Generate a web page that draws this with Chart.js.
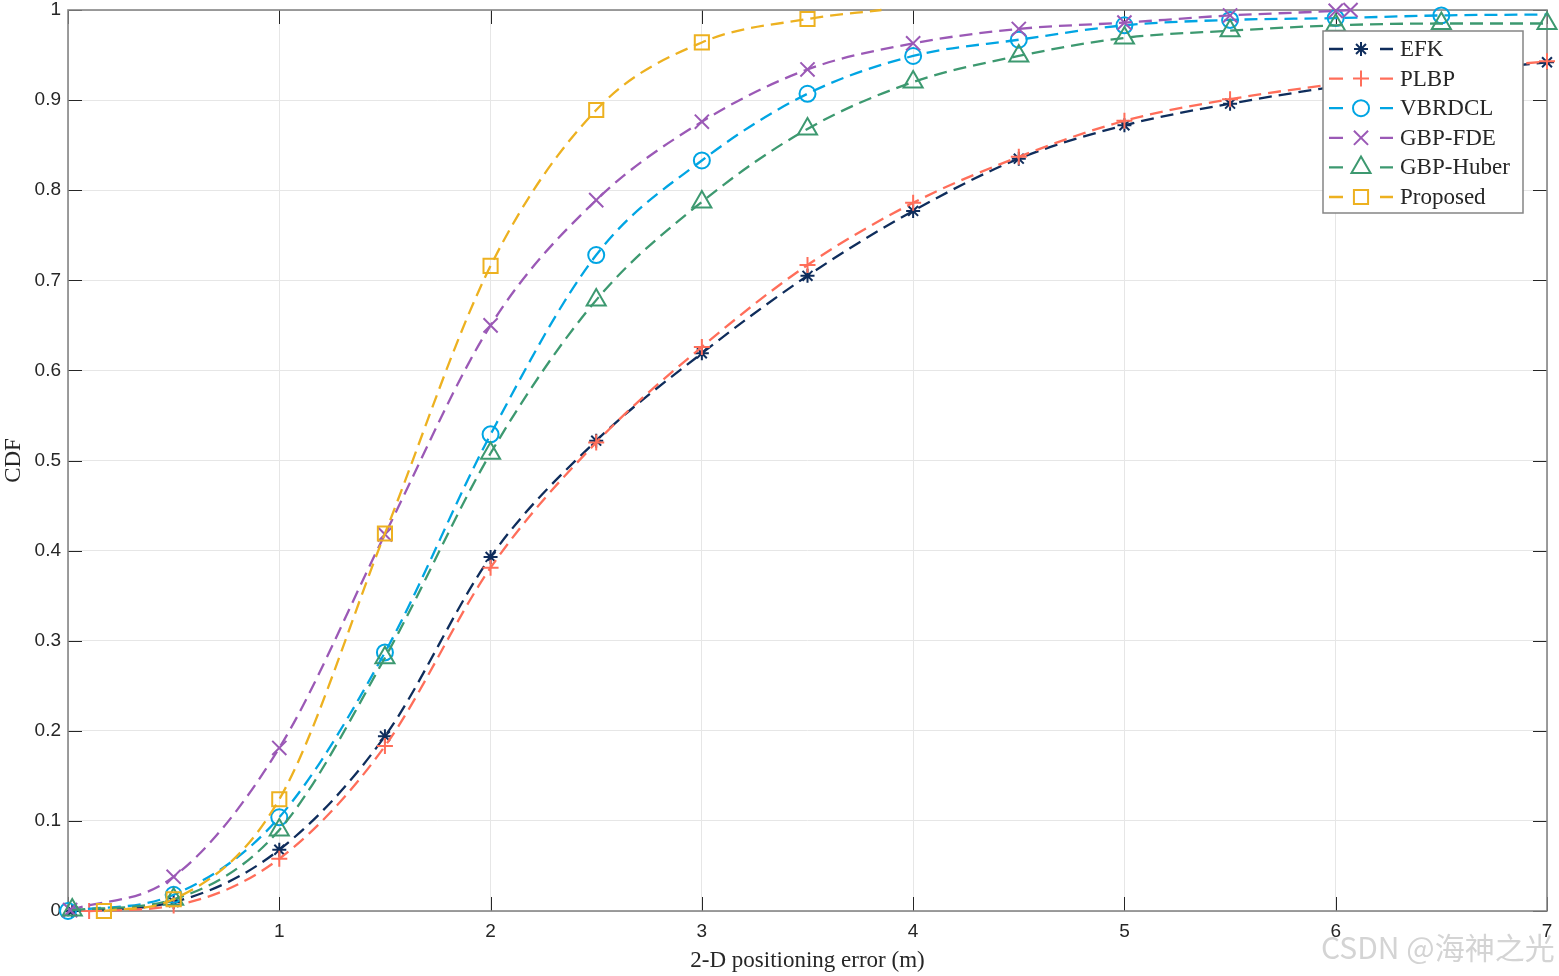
<!DOCTYPE html>
<html>
<head>
    <title>CDF of 2-D positioning error</title>
    <style>
        body {
            margin: 0;
            background-color: white;
        }

        #wrap {
            position: relative;
            width: 1559px;
            height: 976px;
        }

        #cdf-chart {
            display: block;
        }

        /* watermark in the lower right corner */
        #mark {
            position: absolute;
            left: 1321px;
            top: 929px;
            font-family: 'Noto Sans CJK SC', sans-serif;
            font-size: 30px;
            line-height: 34px;
            color: #d4d4d4;
            white-space: nowrap;
        }
    </style>
    <script src="https://cdn.jsdelivr.net/npm/chart.js"></script>
</head>
<body>
    <div id="wrap">
        <canvas id="cdf-chart" width="1559" height="976"></canvas>
        <div id="mark">CSDN @海神之光</div>
    </div>

    <script>
        // x ticks (m) and y ticks (CDF)
        const xTicks = [0, 1, 2, 3, 4, 5, 6, 7];
        const yTicks = [0, 0.1, 0.2, 0.3, 0.4, 0.5, 0.6, 0.7, 0.8, 0.9, 1];

        const seriesNames = ['EFK', 'PLBP', 'VBRDCL', 'GBP-FDE', 'GBP-Huber', 'Proposed'];

        const efkX = [0.02, 0.5, 1, 1.5, 2, 2.5, 3, 3.5, 4, 4.5, 5, 5.5, 6, 6.5, 7];
        const efkCdf = [0, 0.01, 0.068, 0.194, 0.393, 0.522, 0.619, 0.705, 0.777, 0.835, 0.872, 0.896, 0.915, 0.93, 0.942];

        const plbpX = [0.1, 0.5, 1, 1.5, 2, 2.5, 3, 3.5, 4, 4.5, 5, 5.5, 6, 6.5, 7];
        const plbpCdf = [0, 0.006, 0.058, 0.183, 0.381, 0.52, 0.626, 0.717, 0.786, 0.837, 0.877, 0.901, 0.918, 0.932, 0.943];

        const vbrdclX = [0, 0.5, 1, 1.5, 2, 2.5, 3, 3.5, 4, 4.5, 5, 5.5, 6, 6.5, 7];
        const vbrdclCdf = [0, 0.018, 0.104, 0.287, 0.529, 0.728, 0.833, 0.907, 0.949, 0.967, 0.983, 0.989, 0.991, 0.994, 0.995];

        const fdeX = [0.01, 0.5, 1, 1.5, 2, 2.5, 3, 3.5, 4, 4.5, 5, 5.5, 6, 6.07];
        const fdeCdf = [0.001, 0.038, 0.181, 0.418, 0.65, 0.789, 0.876, 0.934, 0.963, 0.979, 0.986, 0.994, 0.999, 1];

        const huberX = [0.02, 0.5, 1, 1.5, 2, 2.5, 3, 3.5, 4, 4.5, 5, 5.5, 6, 6.5, 7];
        const huberCdf = [0.001, 0.013, 0.09, 0.281, 0.508, 0.678, 0.787, 0.868, 0.92, 0.949, 0.969, 0.977, 0.983, 0.985, 0.985];

        const proposedX = [0.17, 0.5, 1, 1.5, 2, 2.5, 3, 3.5, 3.85];
        const proposedCdf = [0, 0.013, 0.124, 0.419, 0.716, 0.889, 0.964, 0.99, 1];

        const colors = ['#0f2d5c', '#ff6e5a', '#00a5e3', '#9b59b6', '#3d9970', '#edb120'];
        const markers = ['star', 'cross', 'circle', 'crossRot', 'triangle', 'rect'];
        const markerSize = [7, 8, 8, 10, 11, 10];

        function toPoints(xs, ys) {
            return xs.map((x, i) => ({ x: x, y: ys[i] }));
        }

        const allX = [efkX, plbpX, vbrdclX, fdeX, huberX, proposedX];
        const allY = [efkCdf, plbpCdf, vbrdclCdf, fdeCdf, huberCdf, proposedCdf];

        const datasets = seriesNames.map((name, i) => {
            const radii = allX[i].map(() => markerSize[i]);
            // no marker drawn on the last point of VBRDCL and Proposed
            if (name === 'VBRDCL' || name === 'Proposed') radii[radii.length - 1] = 0;
            return {
                label: name,
                data: toPoints(allX[i], allY[i]),
                borderColor: colors[i],
                backgroundColor: 'rgba(0,0,0,0)',
                borderWidth: 2.3,
                borderDash: [13, 7],
                cubicInterpolationMode: 'monotone',
                pointStyle: markers[i],
                pointRadius: radii,
                pointBorderColor: colors[i],
                pointBackgroundColor: 'rgba(0,0,0,0)',
                pointBorderWidth: 2,
                markerSize: markerSize[i],
                clip: false,
                order: seriesNames.length - i
            };
        });

        // box round the plot and inward tick marks
        const frame = {
            id: 'frame',
            beforeDatasetsDraw(chart) {
                const { ctx, chartArea: a, scales: { x, y } } = chart;
                ctx.save();
                ctx.strokeStyle = '#262626';
                ctx.lineWidth = 1;
                ctx.beginPath();
                xTicks.forEach(v => {
                    const px = Math.round(x.getPixelForValue(v)) + 0.5;
                    ctx.moveTo(px, a.bottom); ctx.lineTo(px, a.bottom - 14);
                    ctx.moveTo(px, a.top); ctx.lineTo(px, a.top + 14);
                });
                yTicks.forEach(v => {
                    const py = Math.round(y.getPixelForValue(v)) + 0.5;
                    ctx.moveTo(a.left, py); ctx.lineTo(a.left + 14, py);
                    ctx.moveTo(a.right, py); ctx.lineTo(a.right - 14, py);
                });
                ctx.stroke();
                ctx.strokeStyle = '#858585';
                ctx.lineWidth = 1.6;
                ctx.strokeRect(a.left, a.top, a.right - a.left, a.bottom - a.top);
                ctx.restore();
            }
        };

        // legend with line + marker samples, upper right
        const legendBox = {
            id: 'legendBox',
            afterDraw(chart) {
                const ctx = chart.ctx;
                const left = 1323, top = 31, w = 200, h = 182;
                ctx.save();
                ctx.fillStyle = 'white';
                ctx.fillRect(left, top, w, h);
                ctx.strokeStyle = '#858585';
                ctx.lineWidth = 1.5;
                ctx.strokeRect(left, top, w, h);
                chart.data.datasets.forEach((ds, i) => {
                    const cy = top + 18 + i * 29.6;
                    ctx.setLineDash([]);
                    ctx.strokeStyle = ds.borderColor;
                    ctx.lineWidth = ds.borderWidth;
                    ctx.beginPath();
                    ctx.moveTo(left + 6, cy); ctx.lineTo(left + 20, cy);
                    ctx.moveTo(left + 57, cy); ctx.lineTo(left + 70, cy);
                    ctx.stroke();
                    ctx.fillStyle = 'rgba(0,0,0,0)';
                    ctx.lineWidth = ds.pointBorderWidth;
                    Chart.helpers.drawPoint(ctx, {
                        pointStyle: ds.pointStyle,
                        radius: ds.markerSize,
                        borderWidth: ds.pointBorderWidth,
                        rotation: 0
                    }, left + 38, cy);
                    ctx.fillStyle = '#262626';
                    ctx.font = '23px "Liberation Serif", serif';
                    ctx.textBaseline = 'middle';
                    ctx.textAlign = 'left';
                    ctx.fillText(ds.label, left + 77, cy + 1);
                });
                ctx.restore();
            }
        };

        const ctx = document.getElementById('cdf-chart').getContext('2d');
        const myChart = new Chart(ctx, {
            type: 'line',
            data: { datasets: datasets },
            options: {
                responsive: false,
                animation: false,
                layout: { autoPadding: false, padding: { left: 0, top: 10, right: 12, bottom: 0 } },
                plugins: {
                    legend: { display: false },
                    tooltip: { enabled: false }
                },
                scales: {
                    x: {
                        type: 'linear',
                        min: 0,
                        max: 7,
                        afterBuildTicks: s => { s.ticks = xTicks.map(v => ({ value: v })); },
                        afterFit: s => {
                            s.height = 65;
                            s.paddingLeft = 0;
                            s.paddingRight = 0;
                        },
                        ticks: {
                            callback: v => (v === 0 ? '' : String(v)),
                            color: '#262626',
                            font: { family: '"Liberation Sans", Arial, sans-serif', size: 19, lineHeight: 1 },
                            padding: 11,
                            maxRotation: 0,
                            autoSkip: false
                        },
                        grid: { color: '#e6e6e6', lineWidth: 1, drawTicks: false },
                        border: { display: false },
                        title: {
                            display: true,
                            text: '2-D positioning error (m)',
                            color: '#262626',
                            font: { family: '"Liberation Serif", serif', size: 23, lineHeight: 1.2 },
                            padding: { top: 0, bottom: 1 }
                        }
                    },
                    y: {
                        type: 'linear',
                        min: 0,
                        max: 1,
                        afterBuildTicks: s => { s.ticks = yTicks.map(v => ({ value: v })); },
                        afterFit: s => {
                            s.width = 68;
                            s.paddingTop = 0;
                            s.paddingBottom = 0;
                        },
                        ticks: {
                            callback: v => String(Math.round(v * 10) / 10),
                            color: '#262626',
                            font: { family: '"Liberation Sans", Arial, sans-serif', size: 19, lineHeight: 1 },
                            padding: 7
                        },
                        grid: { color: '#e6e6e6', lineWidth: 1, drawTicks: false },
                        border: { display: false },
                        title: {
                            display: true,
                            text: 'CDF',
                            color: '#262626',
                            font: { family: '"Liberation Serif", serif', size: 23, lineHeight: 1.2 },
                            padding: { top: 0, bottom: 0 }
                        }
                    }
                }
            },
            plugins: [frame, legendBox]
        });
    </script>
</body>
</html>
